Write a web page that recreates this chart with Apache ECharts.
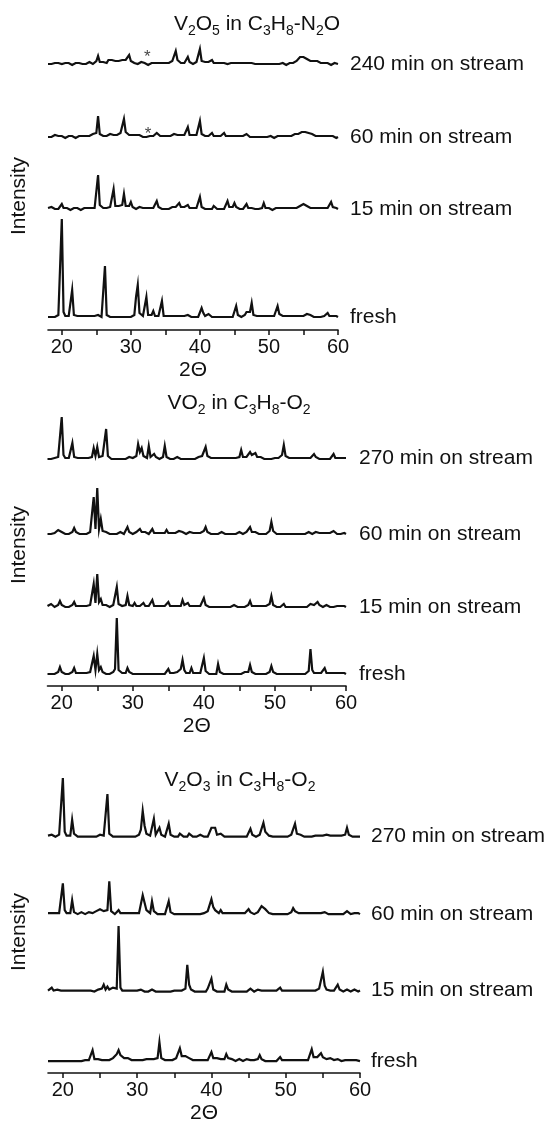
<!DOCTYPE html>
<html>
<head>
<meta charset="utf-8">
<script src="https://cdn.jsdelivr.net/npm/echarts@6/dist/echarts.min.js"></script>
<style>
  html, body { margin: 0; padding: 0; background: #ffffff; }
  #chart { width: 550px; height: 1125px; }
</style>
</head>
<body>
<div id="chart"></div>
<script>
// 2θ sampling of every pattern: 18° to 60° in 0.25° steps (169 points)
const thetaStart = 18;
const thetaStep = 0.25;

const xTicks = [20, 25, 30, 35, 40, 45, 50, 55, 60];
const xTickLabels = [20, 30, 40, 50, 60];

// ---- V2O5 in C3H8-N2O (intensity above each pattern's own baseline) ----
const v2o5Names = ['240 min on stream', '60 min on stream', '15 min on stream', 'fresh'];
const v2o5_240 = [
  1,2,1,0, 2,1,2,1,
  1,0,2,1, 2,1,0,1, 2,1,2,3, 1,2,1,2, 3,2,1,2,
  4,9,3,2, 3,4,2,5, 4,5,6,4, 5,4,6,5, 4,5,6,10,
  4,3,2,3, 1,2,3,1, 2,1,0,1, 2,1,2,3, 2,1,2,1,
  2,1,2,3, 4,6,14,5, 3,2,3,2, 3,8,3,2, 1,2,3,2,
  16,4,2,3, 2,3,2,5, 2,1,2,1, 2,1,2,3, 1,3,2,1,
  2,1,2,1, 2,1,2,4, 2,1,2,1, 1,2,1,0, 1,2,1,2,
  1,0,1,2, 1,0,1,1, 2,1,0,1, 2,1,2,3, 4,6,8,7,
  8,7,6,5, 4,3,4,2, 4,3,2,1, 2,1,2,1, 0,1,2,1,
  1
];
const v2o5_60 = [
  1,2,1,2, 3,1,2,1,
  2,1,0,1, 2,1,2,1, 0,1,2,1, 2,3,2,3, 2,3,4,3,
  5,22,4,3, 2,3,2,3, 4,5,3,4, 3,4,5,6, 19,6,4,3,
  4,3,2,3, 2,3,2,1, 2,1,3,2, 1,2,3,5, 3,2,1,2,
  3,2,3,2, 3,4,5,3, 2,3,2,3, 4,11,3,2, 3,2,3,4,
  17,4,3,2, 3,2,3,5, 2,1,2,1, 2,3,5,2, 1,2,1,2,
  4,2,1,2, 1,2,1,4, 2,1,2,1, 0,1,2,1, 2,1,0,1,
  1,2,1,0, 1,2,1,2, 1,2,1,2, 3,2,3,4, 3,4,5,6,
  5,6,4,5, 3,4,3,2, 3,2,1,2, 1,2,1,2, 1,2,1,0,
  1
];
const v2o5_15 = [
  2,1,3,2, 1,2,1,3,
  6,2,1,2, 1,0,1,2, 1,2,1,0, 1,2,1,2, 1,2,3,2,
  4,35,5,3, 2,3,2,4, 3,5,21,4, 3,4,3,5, 16,4,3,4,
  8,3,2,1, 2,3,1,2, 1,2,1,2, 1,2,3,9, 3,2,1,2,
  1,2,1,2, 3,2,3,4, 7,3,2,3, 2,5,2,1, 2,1,2,3,
  13,3,2,1, 2,1,2,1, 4,2,1,2, 1,2,1,2, 9,3,2,3,
  7,3,2,1, 2,1,3,6, 2,1,2,1, 1,2,1,2, 2,7,2,1,
  2,1,0,1, 2,1,2,1, 2,3,2,1, 2,1,2,3, 2,3,4,5,
  6,5,4,3, 2,1,2,1, 2,1,2,1, 2,3,2,1, 8,3,4,2,
  1
];
const v2o5_fresh = [
  1,2,1,2, 1,2,3,5,
  99,6,2,1, 2,3,28,3, 1,2,1,2, 1,2,1,2, 1,2,3,2,
  3,3,2,1, 2,52,3,2, 1,2,1,2, 1,2,1,2, 1,2,1,2,
  1,2,3,21, 33,5,3,2, 3,21,3,2, 3,7,2,3, 2,3,17,2,
  1,2,1,2, 1,2,1,2, 1,2,1,2, 2,3,2,1, 2,1,2,1,
  3,10,5,2, 2,4,2,1, 2,1,2,1, 2,1,2,1, 2,1,2,1,
  2,12,3,2, 1,2,3,6, 4,6,15,3, 5,2,1,2, 1,2,1,2,
  1,2,1,2, 3,12,4,6, 2,1,2,1, 2,1,2,1, 2,1,2,1,
  2,3,4,2, 3,2,1,2, 1,2,1,2, 2,3,5,2, 1,2,1,2,
  1
];
// reflections marked with an asterisk: [2θ, height above baseline, pattern index]
const v2o5Asterisks = [[32.4, 8, 0], [32.5, 4, 1]];

// ---- VO2 in C3H8-O2 ----
const vo2Names = ['270 min on stream', '60 min on stream', '15 min on stream', 'fresh'];
const vo2_270 = [
  1,2,1,3, 2,1,3,4,
  43,5,2,1, 2,3,17,3, 1,2,1,2, 1,2,1,2, 2,3,12,4,
  13,3,2,4, 5,31,4,2, 1,2,1,2, 1,2,1,2, 1,2,3,2,
  2,3,4,16, 8,12,4,3, 2,14,3,2, 6,3,2,1, 2,3,14,3,
  2,1,2,1, 2,3,2,1, 2,1,2,1, 2,1,2,1, 2,3,2,4,
  6,13,4,3, 2,3,2,1, 2,1,2,1, 2,1,2,1, 2,3,2,1,
  3,10,3,2, 3,4,8,5, 5,7,3,2, 3,2,1,2, 1,2,1,2,
  2,1,2,3, 5,15,4,3, 2,3,2,1, 2,1,2,1, 2,1,2,3,
  2,3,6,3, 2,1,2,1, 2,1,2,1, 3,6,2,1, 2,4,2,1,
  2
];
const vo2_60 = [
  1,2,1,2, 2,3,5,4,
  3,2,1,2, 1,2,3,7, 3,2,1,2, 1,2,1,2, 3,5,38,6,
  47,6,16,4, 2,3,2,1, 2,1,2,1, 2,3,2,1, 3,8,3,2,
  1,2,3,2, 6,3,2,3, 2,1,3,6, 2,3,2,1, 2,3,2,5,
  2,3,2,1, 2,1,4,2, 3,2,1,2, 3,5,2,1, 2,1,2,3,
  4,8,3,2, 1,2,1,2, 1,2,3,2, 1,2,1,2, 1,2,1,2,
  3,2,1,2, 3,4,8,3, 2,3,2,1, 2,1,2,1, 2,4,13,4,
  2,1,2,1, 2,1,2,1, 2,1,2,1, 2,1,2,1, 2,1,2,3,
  2,1,2,3, 5,2,1,2, 1,2,1,2, 3,4,2,1, 2,1,3,2,
  1
];
const vo2_15 = [
  2,3,4,2, 1,2,3,7,
  3,2,1,2, 1,2,3,6, 2,1,2,1, 2,1,2,3, 3,4,24,5,
  34,6,9,3, 2,3,2,1, 2,3,5,21, 4,3,2,1, 3,12,3,2,
  2,5,2,1, 2,3,5,2, 1,2,3,8, 2,1,2,1, 2,1,2,1,
  6,2,1,2, 4,2,1,2, 8,3,2,5, 2,1,2,1, 2,1,2,3,
  10,3,2,1, 2,1,2,1, 2,1,2,1, 2,1,2,1, 2,3,4,1,
  2,1,2,1, 2,3,7,2, 1,2,1,2, 1,2,1,2, 3,4,12,3,
  2,1,2,1, 2,4,1,2, 1,2,1,2, 1,2,1,2, 1,2,1,2,
  4,2,3,2, 6,3,2,1, 2,3,2,1, 2,1,3,2, 1,2,1,2,
  1
];
const vo2_fresh = [
  1,2,1,2, 1,2,3,8,
  3,2,1,2, 1,2,3,7, 2,1,2,1, 2,1,2,3, 3,4,19,5,
  21,5,8,3, 2,1,2,1, 2,3,6,57, 5,3,2,1, 2,7,3,2,
  1,2,1,2, 1,2,1,2, 1,2,1,2, 1,2,1,2, 1,2,1,2,
  6,2,1,2, 2,3,4,6, 15,5,2,3, 2,7,2,1, 2,1,2,4,
  17,4,2,1, 2,1,2,1, 11,3,2,1, 2,1,2,1, 2,1,2,1,
  2,1,2,3, 2,3,10,3, 2,1,2,1, 2,1,2,1, 2,3,9,3,
  2,1,2,1, 2,1,2,1, 2,1,2,1, 2,1,2,1, 2,1,2,4,
  26,5,2,1, 2,1,2,3, 7,2,1,2, 1,2,4,2, 1,2,1,2,
  1
];

// ---- V2O3 in C3H8-O2 ----
const v2o3Names = ['270 min on stream', '60 min on stream', '15 min on stream', 'fresh'];
const v2o3_270 = [
  2,1,3,2, 1,2,3,5,
  60,6,2,3, 2,18,4,2, 1,2,1,2, 1,2,1,2, 1,2,1,2,
  3,5,2,1, 44,4,2,1, 2,1,2,1, 2,1,2,1, 2,1,2,1,
  2,3,8,27, 12,4,3,2, 4,19,3,2, 10,3,2,1, 3,14,3,2,
  1,2,1,4, 2,1,2,1, 4,2,1,2, 1,2,3,2, 1,2,1,2,
  10,9,10,3, 2,4,2,1, 2,1,2,1, 2,1,2,1, 2,1,2,1,
  3,9,3,2, 1,2,3,5, 15,6,4,2, 2,1,2,1, 2,1,2,1,
  2,1,2,3, 4,14,4,6, 3,2,1,2, 1,2,1,3, 2,1,2,1,
  2,1,3,1, 2,1,2,3, 2,1,2,1, 3,10,3,2, 1,2,1,2,
  1
];
const v2o3_60 = [
  2,1,2,1, 2,1,2,4,
  32,5,2,1, 2,15,3,2, 1,2,3,2, 1,2,3,2, 2,3,4,5,
  6,5,4,3, 5,34,4,2, 1,2,5,2, 1,2,1,2, 1,2,1,2,
  1,2,4,20, 18,5,3,2, 14,4,2,1, 2,1,2,1, 3,14,3,2,
  1,2,1,2, 1,2,1,2, 1,2,1,2, 1,2,1,2, 2,3,4,5,
  16,8,5,3, 2,5,2,1, 2,1,2,1, 2,1,2,1, 2,1,2,3,
  6,3,2,1, 2,3,4,9, 8,6,4,2, 2,1,2,1, 2,1,2,1,
  2,1,2,3, 7,4,3,2, 1,2,1,2, 1,2,1,2, 1,2,1,2,
  2,3,2,1, 2,1,2,1, 2,1,2,1, 3,4,2,1, 1,2,1,2,
  1
];
const v2o3_15 = [
  2,3,5,2, 1,3,2,2,
  4,2,1,2, 1,2,1,2, 1,2,1,2, 1,2,1,2, 2,1,2,3,
  3,4,8,3, 6,3,4,5, 3,4,67,5, 2,1,2,1, 2,3,2,1,
  2,1,3,2, 1,2,1,2, 3,2,1,2, 1,2,1,2, 1,2,1,2,
  2,1,2,3, 2,3,4,28, 8,3,2,1, 2,1,2,1, 2,1,4,2,
  14,3,2,1, 2,1,2,1, 8,3,2,1, 2,1,2,1, 2,1,2,1,
  2,4,2,1, 2,3,5,2, 1,2,1,2, 1,2,1,2, 2,5,2,1,
  2,1,2,1, 2,1,2,1, 2,1,2,1, 2,1,2,1, 2,3,4,6,
  21,7,3,2, 2,1,2,3, 8,3,2,1, 2,3,2,1, 2,3,2,1,
  2
];
const v2o3_fresh = [
  1,2,1,2, 1,2,1,2,
  1,2,1,2, 1,2,1,2, 1,2,1,2, 2,1,2,3, 12,3,2,3,
  4,2,3,2, 3,2,3,4, 5,8,12,7, 5,4,3,4, 3,2,3,2,
  3,2,3,2, 2,3,5,3, 2,3,2,4, 20,4,3,2, 3,2,3,2,
  3,4,5,14, 6,5,6,8, 4,3,2,3, 2,3,2,1, 2,3,2,3,
  10,4,3,4, 5,3,2,3, 8,4,2,3, 2,1,2,3, 2,1,2,3,
  4,2,1,2, 2,3,7,3, 2,1,2,1, 2,1,2,1, 2,5,2,1,
  2,1,2,1, 2,1,2,1, 2,3,2,1, 2,4,13,5, 4,5,6,9,
  5,4,3,4, 4,3,2,3, 3,2,1,2, 2,1,2,1, 2,1,2,1,
  1
];

// ---- layout ----
const FONT = '"Liberation Sans", Arial, Helvetica, sans-serif';
const INK = '#111111';

const panels = [
  {
    title: '{m|V}{s|2}{m|O}{s|5}{m| in C}{s|3}{m|H}{s|8}{m|-N}{s|2}{m|O}',
    titleX: 257, titleY: 14,
    grid: { left: 48, top: 62, width: 290, height: 268 },
    lifts: [265, 192, 120, 12], labelGap: 12,
    names: v2o5Names,
    traces: [v2o5_240, v2o5_60, v2o5_15, v2o5_fresh],
    asterisks: v2o5Asterisks
  },
  {
    title: '{m|VO}{s|2}{m| in C}{s|3}{m|H}{s|8}{m|-O}{s|2}',
    titleX: 239, titleY: 393,
    grid: { left: 47.5, top: 404, width: 298.5, height: 282 },
    lifts: [226, 151, 78, 11], labelGap: 13,
    names: vo2Names,
    traces: [vo2_270, vo2_60, vo2_15, vo2_fresh],
    asterisks: []
  },
  {
    title: '{m|V}{s|2}{m|O}{s|3}{m| in C}{s|3}{m|H}{s|8}{m|-O}{s|2}',
    titleX: 240, titleY: 770,
    grid: { left: 48, top: 791, width: 312, height: 284 },
    lifts: [237, 159, 81, 11], labelGap: 11,
    names: v2o3Names,
    traces: [v2o3_270, v2o3_60, v2o3_15, v2o3_fresh],
    asterisks: []
  }
];

function toPoints(values, lift) {
  return values.map((v, i) => [thetaStart + i * thetaStep, v + lift]);
}

const option = {
  animation: false,
  backgroundColor: '#ffffff',
  textStyle: { fontFamily: FONT, color: INK },
  title: [],
  grid: [],
  xAxis: [],
  yAxis: [],
  series: []
};

panels.forEach((p, k) => {
  option.title.push({
    text: p.title,
    left: p.titleX,
    top: p.titleY,
    textAlign: 'center',
    padding: 0,
    textStyle: {
      fontWeight: 'normal',
      rich: {
        m: { fontFamily: FONT, fontSize: 21, fontWeight: 'normal', color: INK, lineHeight: 24, verticalAlign: 'top' },
        s: { fontFamily: FONT, fontSize: 14, fontWeight: 'normal', color: INK, lineHeight: 8, verticalAlign: 'bottom' }
      }
    }
  });
  option.grid.push(Object.assign({ containLabel: false }, p.grid));
  option.xAxis.push({
    type: 'value',
    gridIndex: k,
    min: thetaStart,
    max: 60,
    name: '2Θ',
    nameLocation: 'middle',
    nameGap: 30,
    nameTextStyle: { fontFamily: FONT, fontSize: 21, color: INK },
    axisLine: { show: true, onZero: false, lineStyle: { color: INK, width: 1.6 } },
    axisTick: { show: true, inside: false, length: 5, customValues: xTicks, lineStyle: { color: INK, width: 1.5 } },
    axisLabel: { show: true, customValues: xTickLabels, margin: 7, fontFamily: FONT, fontSize: 20, color: INK },
    splitLine: { show: false }
  });
  option.yAxis.push({
    type: 'value',
    gridIndex: k,
    min: 0,
    max: p.grid.height,
    name: 'Intensity',
    nameLocation: 'middle',
    nameRotate: 90,
    nameGap: 18,
    nameTextStyle: { fontFamily: FONT, fontSize: 21, color: INK },
    axisLine: { show: false },
    axisTick: { show: false },
    axisLabel: { show: false },
    splitLine: { show: false }
  });
  p.traces.forEach((values, j) => {
    option.series.push({
      type: 'line',
      name: p.names[j],
      xAxisIndex: k,
      yAxisIndex: k,
      data: toPoints(values, p.lifts[j]),
      symbol: 'none',
      clip: false,
      silent: true,
      lineStyle: { color: INK, width: 2.2, join: 'miter' },
      endLabel: {
        show: true,
        formatter: '{a}',
        distance: p.labelGap,
        fontFamily: FONT,
        fontSize: 21,
        color: INK
      }
    });
  });
  if (p.asterisks.length) {
    option.series.push({
      type: 'scatter',
      xAxisIndex: k,
      yAxisIndex: k,
      silent: true,
      clip: false,
      symbolSize: 1,
      itemStyle: { color: 'rgba(0,0,0,0)' },
      labelLayout: { hideOverlap: false },
      data: p.asterisks.map(a => [a[0], a[1] + p.lifts[a[2]]]),
      label: { show: true, formatter: '*', position: 'inside', fontFamily: FONT, fontSize: 17, color: INK }
    });
  }
});

const chart = echarts.init(document.getElementById('chart'), null, { renderer: 'canvas' });
chart.setOption(option);
</script>
</body>
</html>
